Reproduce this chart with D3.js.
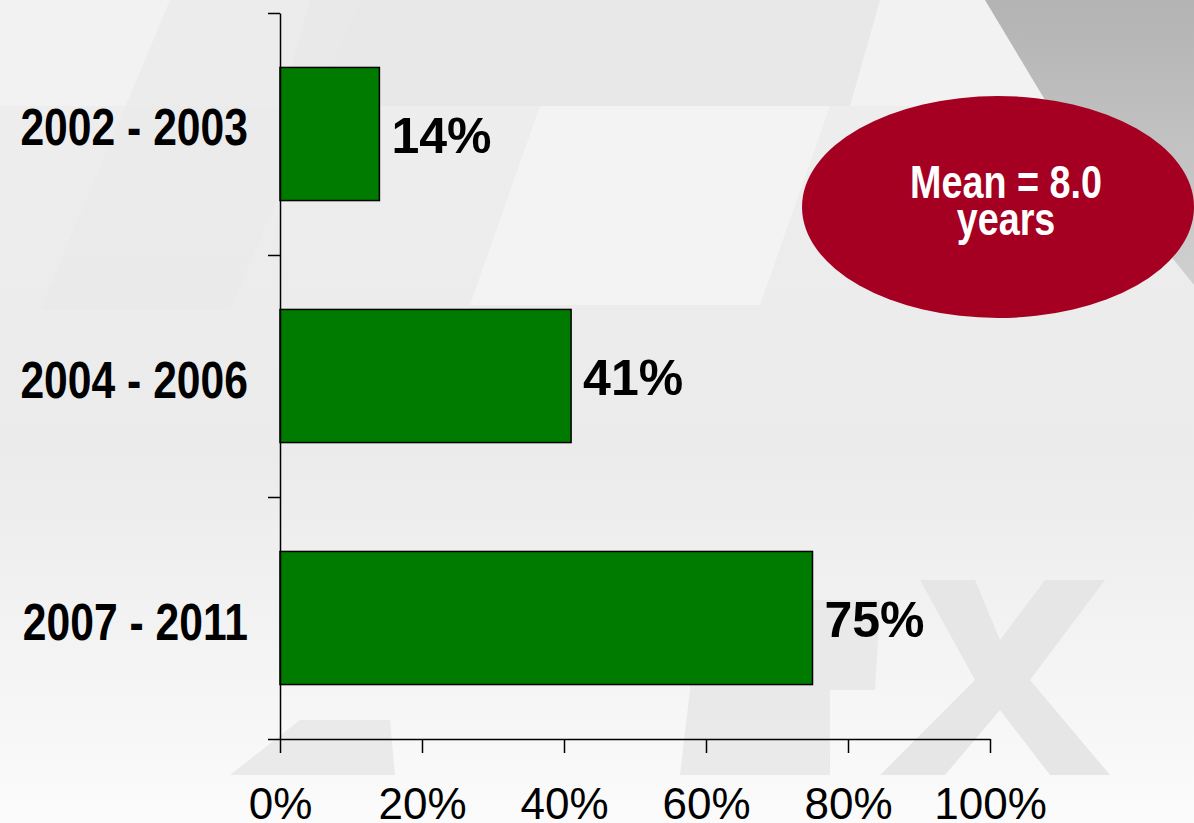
<!DOCTYPE html>
<html lang="en">
<head>
    <meta charset="UTF-8">
    <title>Share by period</title>
    <script src="https://cdnjs.cloudflare.com/ajax/libs/d3/7.8.5/d3.min.js"></script>
    <style>
        body {
            margin: 0;
            padding: 0;
            background-color: #f0f0f0;
            overflow: hidden;
        }
        .axis path, .axis line {
            stroke: #000;
            stroke-width: 1.5px;
        }
        .cat-label {
            font-family: "Liberation Sans", Arial, sans-serif;
            font-weight: bold;
            font-size: 52px;
            fill: #000;
        }
        .value-label {
            font-family: "Liberation Sans", Arial, sans-serif;
            font-weight: bold;
            font-size: 50px;
            fill: #000;
        }
        .axis text {
            font-family: "Liberation Sans", Arial, sans-serif;
            font-size: 44px;
            fill: #000;
        }
        .mean-text {
            font-family: "Liberation Sans", Arial, sans-serif;
            font-weight: bold;
            font-size: 46px;
            fill: #fff;
        }
    </style>
</head>
<body>
    <svg id="chart"></svg>

    <script>
        // Chart data
        const categories = ["2002 - 2003", "2004 - 2006", "2007 - 2011"];
        const values = [14, 41, 75];
        const xTicks = [0, 20, 40, 60, 80, 100];
        const meanLines = ["Mean = 8.0", "years"];

        // Layout
        const width = 1194;
        const height = 823;
        const plotLeft = 280, plotRight = 990;
        const plotTop = 13, plotBottom = 739;
        const labelNudge = [-11, 0, 0];
        const narrow = 0.82;   // condensed look, no narrow font installed

        const svg = d3.select("#chart")
            .attr("width", width)
            .attr("height", height);

        // Background watermark
        const defs = svg.append("defs");
        const grad = defs.append("linearGradient")
            .attr("id", "bg")
            .attr("x1", 0).attr("y1", 0).attr("x2", 0).attr("y2", 1);
        grad.append("stop").attr("offset", "0%").attr("stop-color", "#eeeeee");
        grad.append("stop").attr("offset", "55%").attr("stop-color", "#ebebeb");
        grad.append("stop").attr("offset", "100%").attr("stop-color", "#fbfbfb");
        const dark = defs.append("linearGradient")
            .attr("id", "dark")
            .attr("x1", 0).attr("y1", 0).attr("x2", 0).attr("y2", 1);
        dark.append("stop").attr("offset", "0%").attr("stop-color", "#b3b3b3");
        dark.append("stop").attr("offset", "100%").attr("stop-color", "#d0d0d0");

        const bg = svg.append("g");
        bg.append("rect").attr("width", width).attr("height", height).attr("fill", "url(#bg)");
        bg.append("rect").attr("width", width).attr("height", 106).attr("fill", "#f2f2f2");
        bg.append("polygon")
            .attr("points", "310,0 880,0 850,106 280,106")
            .attr("fill", "#e8e8e8");
        bg.append("polygon")
            .attr("points", "170,0 40,310 230,310 360,0")
            .attr("fill", "#e9e9e9").attr("opacity", 0.7);
        bg.append("polygon")
            .attr("points", "540,106 830,106 760,305 470,305")
            .attr("fill", "#f3f3f3");
        bg.append("polygon")
            .attr("points", "985,0 1194,0 1194,285 1045,100")
            .attr("fill", "url(#dark)");
        bg.append("polygon")
            .attr("points", "920,580 975,580 1000,640 1045,580 1105,580 1030,680 1110,775 1050,775 1000,710 945,775 880,775 975,680")
            .attr("fill", "#e6e6e6");
        bg.append("polygon")
            .attr("points", "690,600 880,600 875,690 830,690 830,775 680,775 690,690")
            .attr("fill", "#e6e6e6").attr("opacity", 0.8);
        bg.append("polygon")
            .attr("points", "300,720 390,720 395,775 230,775")
            .attr("fill", "#e6e6e6").attr("opacity", 0.8);

        // Scales
        const x = d3.scaleLinear()
            .domain([0, 100])
            .range([plotLeft, plotRight]);

        const y = d3.scaleBand()
            .domain(categories)
            .range([plotTop, plotBottom])
            .paddingInner(0.45)
            .paddingOuter(0.225);

        const yEdges = d3.scaleLinear()
            .domain([0, categories.length])
            .range([plotTop, plotBottom]);

        // Bars
        svg.append("g")
            .selectAll("rect")
            .data(values)
            .enter().append("rect")
            .attr("x", x(0))
            .attr("y", (d, i) => y(categories[i]))
            .attr("width", d => x(d) - x(0))
            .attr("height", y.bandwidth())
            .attr("fill", "#007b00")
            .attr("stroke", "#000")
            .attr("stroke-width", 1.5);

        // Value labels
        svg.append("g")
            .selectAll("text")
            .data(values)
            .enter().append("text")
            .attr("class", "value-label")
            .attr("x", d => x(d) + 12)
            .attr("y", (d, i) => y(categories[i]) + y.bandwidth() / 2 + 19)
            .text(d => d + "%");

        // Category labels
        svg.append("g")
            .selectAll("text")
            .data(categories)
            .enter().append("text")
            .attr("class", "cat-label")
            .attr("text-anchor", "end")
            .attr("transform", (d, i) =>
                `translate(248,${y(d) + y.bandwidth() / 2 + 22 + labelNudge[i]}) scale(${narrow},1)`)
            .text(d => d);

        // Y axis: ticks at band edges, no labels
        svg.append("g")
            .attr("class", "axis")
            .attr("transform", `translate(${plotLeft},0)`)
            .call(d3.axisLeft(yEdges)
                .ticks(categories.length)
                .tickSize(12)
                .tickSizeOuter(0)
                .tickFormat(""));

        // X axis
        svg.append("g")
            .attr("class", "axis")
            .attr("transform", `translate(0,${plotBottom})`)
            .call(d3.axisBottom(x)
                .tickValues(xTicks)
                .tickSize(14)
                .tickSizeOuter(0)
                .tickPadding(35)
                .tickFormat(d => d + "%"));

        // Mean callout
        const callout = svg.append("g")
            .attr("transform", "translate(998,207)");
        callout.append("ellipse")
            .attr("rx", 196)
            .attr("ry", 111)
            .attr("fill", "#a50021");
        callout.selectAll("text")
            .data(meanLines)
            .enter().append("text")
            .attr("class", "mean-text")
            .attr("text-anchor", "middle")
            .attr("transform", (d, i) => `translate(8,${-9 + i * 37}) scale(${narrow},1)`)
            .text(d => d);
    </script>
</body>
</html>
